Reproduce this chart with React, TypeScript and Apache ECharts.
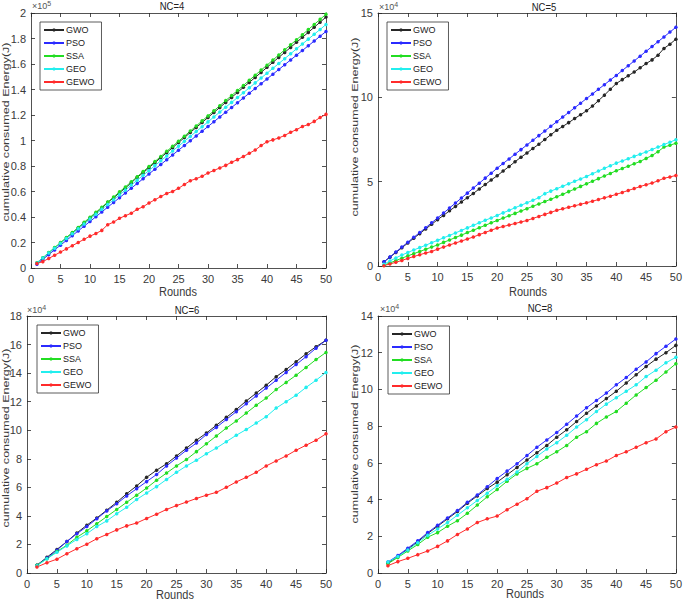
import React, { useEffect, useRef } from "react";
import * as echarts from "echarts";

const seriesNames = ["GWO", "PSO", "SSA", "GEO", "GEWO"];
const seriesColors = ["#262626", "#2b2bff", "#22dd22", "#22eeee", "#ff2b2b"];

// x values (rounds)
const roundsA = [1,2,3,4,5,6,7,8,9,10,11,12,13,14,15,16,17,18,19,20,21,22,23,24,25,26,27,28,29,30,31,32,33,34,35,36,37,38,39,40,41,42,43,44,45,46,47,48,49,50];
const roundsB = [1.667,3.333,5,6.667,8.333,10,11.667,13.333,15,16.667,18.333,20,21.667,23.333,25,26.667,28.333,30,31.667,33.333,35,36.667,38.333,40,41.667,43.333,45,46.667,48.333,50];

// NC=4, values in x10^5 J
const nc4GWO = [0.040,0.078,0.117,0.157,0.196,0.236,0.274,0.314,0.352,0.392,0.431,0.470,0.515,0.550,0.590,0.628,0.668,0.712,0.747,0.787,0.826,0.866,0.905,0.944,0.984,1.023,1.063,1.102,1.141,1.181,1.220,1.259,1.299,1.338,1.377,1.417,1.456,1.495,1.534,1.574,1.613,1.652,1.691,1.730,1.770,1.809,1.848,1.888,1.928,1.968];
const nc4PSO = [0.030,0.067,0.105,0.142,0.179,0.216,0.254,0.291,0.328,0.365,0.402,0.440,0.477,0.514,0.551,0.589,0.626,0.663,0.700,0.738,0.775,0.812,0.849,0.887,0.924,0.961,0.998,1.036,1.073,1.110,1.147,1.185,1.222,1.259,1.296,1.334,1.371,1.408,1.445,1.483,1.520,1.557,1.594,1.632,1.669,1.706,1.743,1.780,1.818,1.855];
const nc4SSA = [0.042,0.080,0.121,0.160,0.199,0.239,0.278,0.318,0.358,0.398,0.437,0.477,0.517,0.557,0.597,0.636,0.676,0.716,0.756,0.796,0.835,0.875,0.915,0.955,0.994,1.034,1.074,1.114,1.154,1.193,1.233,1.273,1.313,1.353,1.392,1.432,1.472,1.512,1.552,1.591,1.631,1.671,1.711,1.751,1.790,1.830,1.870,1.910,1.950,1.990];
const nc4GEO = [0.040,0.079,0.117,0.155,0.193,0.231,0.269,0.307,0.345,0.384,0.422,0.460,0.498,0.536,0.574,0.612,0.651,0.689,0.727,0.765,0.803,0.841,0.879,0.918,0.956,0.994,1.032,1.070,1.108,1.146,1.185,1.223,1.261,1.299,1.337,1.375,1.413,1.452,1.490,1.528,1.566,1.604,1.642,1.680,1.719,1.757,1.795,1.833,1.871,1.910];
const nc4GEWO = [0.035,0.050,0.075,0.100,0.125,0.150,0.175,0.200,0.225,0.250,0.270,0.295,0.340,0.360,0.390,0.410,0.430,0.460,0.480,0.510,0.535,0.560,0.585,0.600,0.625,0.655,0.685,0.700,0.720,0.745,0.765,0.785,0.805,0.830,0.850,0.875,0.900,0.925,0.960,0.990,1.005,1.020,1.040,1.065,1.085,1.110,1.125,1.150,1.180,1.205];

// NC=5, values in x10^4 J
const nc5GWO = [0.25,0.52,0.80,1.08,1.36,1.65,1.92,2.20,2.47,2.75,3.00,3.27,3.53,3.80,4.05,4.30,4.57,4.83,5.10,5.35,5.63,5.90,6.18,6.45,6.70,6.97,7.22,7.50,7.78,8.05,8.27,8.50,8.74,8.97,9.20,9.48,9.80,10.13,10.48,10.82,11.05,11.28,11.50,11.75,12.00,12.22,12.50,12.90,13.15,13.45];
const nc5PSO = [0.25,0.54,0.83,1.12,1.41,1.70,1.98,2.27,2.56,2.85,3.14,3.44,3.73,4.03,4.32,4.62,4.91,5.21,5.50,5.80,6.08,6.35,6.63,6.90,7.18,7.45,7.73,8.00,8.28,8.55,8.83,9.10,9.38,9.65,9.93,10.20,10.48,10.75,11.03,11.30,11.59,11.87,12.16,12.44,12.73,13.01,13.30,13.58,13.87,14.15];
const nc5SSA = [0.05,0.18,0.32,0.46,0.60,0.73,0.86,0.99,1.12,1.25,1.40,1.54,1.69,1.83,1.98,2.12,2.27,2.41,2.56,2.70,2.84,2.98,3.12,3.26,3.40,3.54,3.68,3.82,3.96,4.10,4.25,4.41,4.56,4.72,4.87,5.03,5.18,5.34,5.49,5.65,5.78,5.92,6.06,6.20,6.38,6.55,6.78,7.05,7.16,7.28];
const nc5GEO = [0.10,0.30,0.48,0.65,0.80,0.95,1.09,1.23,1.38,1.52,1.67,1.81,1.96,2.11,2.26,2.41,2.56,2.71,2.85,3.00,3.15,3.30,3.45,3.60,3.75,3.90,4.05,4.29,4.44,4.58,4.73,4.87,5.02,5.16,5.31,5.47,5.63,5.79,5.94,6.10,6.23,6.36,6.50,6.63,6.76,6.91,7.05,7.20,7.34,7.49];
const nc5GEWO = [0.02,0.12,0.22,0.33,0.45,0.56,0.67,0.77,0.86,1.00,1.12,1.25,1.36,1.48,1.60,1.72,1.86,1.99,2.12,2.25,2.34,2.43,2.52,2.61,2.70,2.82,2.94,3.06,3.18,3.30,3.39,3.48,3.57,3.66,3.75,3.84,3.94,4.04,4.14,4.25,4.36,4.48,4.59,4.71,4.82,4.92,5.05,5.20,5.28,5.37];

// NC=6, values in x10^4 J
const nc6GWO = [0.55,1.10,1.65,2.20,2.80,3.35,3.85,4.40,4.95,5.55,6.10,6.70,7.20,7.65,8.20,8.75,9.30,9.80,10.35,10.90,11.45,12.05,12.60,13.15,13.75,14.25,14.80,15.35,15.85,16.30];
const nc6PSO = [0.55,1.05,1.60,2.20,2.75,3.25,3.80,4.35,4.85,5.40,5.90,6.40,6.90,7.50,8.05,8.60,9.10,9.70,10.20,10.75,11.30,11.85,12.40,12.95,13.50,14.05,14.60,15.15,15.75,16.30];
const nc6SSA = [0.55,1.00,1.50,1.95,2.50,2.95,3.45,3.95,4.45,4.95,5.45,5.95,6.50,7.00,7.50,7.95,8.50,9.05,9.60,10.15,10.65,11.20,11.75,12.25,12.85,13.35,13.85,14.40,14.95,15.45];
const nc6GEO = [0.50,1.00,1.45,1.90,2.35,2.75,3.25,3.65,4.15,4.60,5.15,5.60,6.05,6.55,7.05,7.50,7.90,8.35,8.75,9.20,9.65,10.05,10.50,10.95,11.55,12.00,12.45,13.00,13.50,14.05];
const nc6GEWO = [0.42,0.72,0.97,1.35,1.70,2.02,2.40,2.70,3.02,3.30,3.50,3.82,4.12,4.45,4.72,4.97,5.22,5.45,5.65,6.00,6.38,6.70,7.05,7.50,7.85,8.20,8.60,8.95,9.30,9.75];

// NC=8, values in x10^4 J
const nc8GWO = [0.55,0.90,1.30,1.70,2.15,2.55,2.95,3.35,3.80,4.20,4.60,4.95,5.35,5.75,6.15,6.55,6.95,7.40,7.80,8.25,8.70,9.10,9.50,9.90,10.35,10.80,11.25,11.65,12.00,12.40];
const nc8PSO = [0.60,0.95,1.35,1.75,2.20,2.60,3.00,3.40,3.85,4.25,4.70,5.15,5.55,5.95,6.40,6.85,7.25,7.65,8.10,8.55,9.00,9.40,9.80,10.25,10.65,11.10,11.50,11.95,12.35,12.75];
const nc8SSA = [0.50,0.85,1.20,1.55,1.95,2.20,2.55,2.85,3.25,3.70,4.15,4.55,5.00,5.40,5.70,5.95,6.30,6.60,6.95,7.40,7.70,8.15,8.50,8.80,9.25,9.70,10.10,10.50,10.95,11.40];
const nc8GEO = [0.60,0.90,1.25,1.65,2.05,2.40,2.75,3.15,3.55,3.95,4.35,4.75,5.10,5.50,5.95,6.35,6.75,7.10,7.50,7.95,8.35,8.80,9.20,9.55,9.90,10.25,10.70,11.05,11.45,11.75];
const nc8GEWO = [0.40,0.62,0.80,1.00,1.20,1.45,1.75,2.10,2.40,2.75,2.95,3.10,3.45,3.75,4.05,4.45,4.65,4.90,5.20,5.40,5.65,5.90,6.10,6.40,6.60,6.85,7.10,7.30,7.70,7.95];

const panelTitles = ["NC=4", "NC=5", "NC=6", "NC=8"];
const panelExponents = ["5", "4", "4", "4"];
const yMax = [2, 15, 18, 14];
const yInterval = [0.2, 5, 2, 2];

const FONT = "'Liberation Sans', Arial, Helvetica, sans-serif";
const AX = "#262626";
const LBL = "#3a3a3a";

export default function App() {
  const ref = useRef<HTMLDivElement>(null);
  useEffect(() => {
    document.body.style.margin = "0";
    if (!ref.current) return;
    const chart = echarts.init(ref.current, null, { renderer: "svg" });

    const grids = [
      { left: 31, top: 13, width: 295, height: 255 },
      { left: 378, top: 13, width: 302, height: 253 },
      { left: 27, top: 316, width: 299, height: 257 },
      { left: 378, top: 316, width: 302, height: 257 },
    ];
    const panelData = [
      { x: roundsA, ys: [nc4GWO, nc4PSO, nc4SSA, nc4GEO, nc4GEWO] },
      { x: roundsA, ys: [nc5GWO, nc5PSO, nc5SSA, nc5GEO, nc5GEWO] },
      { x: roundsB, ys: [nc6GWO, nc6PSO, nc6SSA, nc6GEO, nc6GEWO] },
      { x: roundsB, ys: [nc8GWO, nc8PSO, nc8SSA, nc8GEO, nc8GEWO] },
    ];

    const lineStyle = { color: AX, width: 0.8 };
    const xAxes: any[] = [];
    const yAxes: any[] = [];
    grids.forEach((_, g) => {
      ["bottom", "top"].forEach((pos) => {
        xAxes.push({
          type: "value", gridIndex: g, position: pos, min: 0, max: 50, interval: 5,
          axisLine: { show: true, onZero: false, lineStyle },
          axisTick: { show: true, inside: true, length: 4, lineStyle },
          axisLabel: { show: pos === "bottom", color: LBL, fontSize: 11, margin: 5, fontFamily: FONT },
          splitLine: { show: false },
        });
      });
      ["left", "right"].forEach((pos) => {
        yAxes.push({
          type: "value", gridIndex: g, position: pos, min: 0, max: yMax[g], interval: yInterval[g],
          axisLine: { show: true, onZero: false, lineStyle },
          axisTick: { show: true, inside: true, length: 4, lineStyle },
          axisLabel: { show: pos === "left", color: LBL, fontSize: 11, margin: 5, fontFamily: FONT },
          splitLine: { show: false },
        });
      });
    });

    const series: any[] = [];
    panelData.forEach((p, g) => {
      p.ys.forEach((vals, s) => {
        series.push({
          type: "line", name: seriesNames[s], xAxisIndex: 2 * g, yAxisIndex: 2 * g,
          data: p.x.map((xv, i) => [xv, vals[i]]),
          symbol: "circle", symbolSize: 3.5, showSymbol: true,
          lineStyle: { color: seriesColors[s], width: 1 },
          itemStyle: { color: seriesColors[s] },
          emphasis: { disabled: true },
        });
      });
    });

    const legendPos = [
      { left: 40, top: 22 },
      { left: 387, top: 22 },
      { left: 37, top: 325 },
      { left: 388, top: 326 },
    ];
    const legends = legendPos.map((lp) => ({
      ...lp,
      orient: "vertical",
      data: seriesNames,
      selectedMode: false,
      itemWidth: 20, itemHeight: 4, itemGap: 3,
      padding: [3, 7, 3, 3],
      borderColor: "#333", borderWidth: 0.8, borderRadius: 0,
      backgroundColor: "#fff",
      textStyle: { fontSize: 9, lineHeight: 10, color: "#222", fontFamily: FONT, padding: [0, 0, 0, -3] },
    }));

    const yNamePos = [
      { x: 6, y: 132 },
      { x: 355, y: 127 },
      { x: 6, y: 438 },
      { x: 355, y: 434 },
    ];
    const titlePos = [
      { x: 172, y: 6 },
      { x: 544, y: 7 },
      { x: 187, y: 310 },
      { x: 540, y: 308 },
    ];
    const roundsPos = [
      { x: 178, y: 292 },
      { x: 528, y: 292 },
      { x: 175, y: 595 },
      { x: 525, y: 594 },
    ];
    const expPos = [
      { x: 32, y: 6 },
      { x: 379, y: 7 },
      { x: 27, y: 310 },
      { x: 380, y: 309 },
    ];
    const graphics: any[] = [];
    for (let g = 0; g < 4; g++) {
      graphics.push({
        type: "text", x: yNamePos[g].x, y: yNamePos[g].y, rotation: Math.PI / 2, scaleX: 1.28,
        style: { text: "cumulative consumed Energy(J)", align: "center", verticalAlign: "middle", fontSize: 9.8, fill: LBL, fontFamily: FONT },
      });
      graphics.push({
        type: "text", x: titlePos[g].x, y: titlePos[g].y, scaleY: 1.15,
        style: { text: panelTitles[g], align: "center", verticalAlign: "middle", fontSize: 9.5, fill: "#222", fontFamily: FONT },
      });
      graphics.push({
        type: "text", x: roundsPos[g].x, y: roundsPos[g].y, scaleY: 1.15,
        style: { text: "Rounds", align: "center", verticalAlign: "middle", fontSize: 11, fill: LBL, fontFamily: FONT },
      });
      graphics.push({
        type: "text", x: expPos[g].x, y: expPos[g].y,
        style: {
          text: "×10{sup|" + panelExponents[g] + "}", align: "left", verticalAlign: "middle",
          fontSize: 9, fill: "#555", fontFamily: FONT,
          rich: { sup: { fontSize: 7, fill: "#555", verticalAlign: "bottom", padding: [0, 0, 6, 0], fontFamily: FONT } },
        },
      });
    }

    chart.setOption({
      animation: false,
      backgroundColor: "#fff",
      textStyle: { fontFamily: FONT },
      grid: grids.map((gr) => ({ ...gr, show: false, containLabel: false })),
      xAxis: xAxes,
      yAxis: yAxes,
      legend: legends,
      series,
      graphic: graphics,
    });
    return () => chart.dispose();
  }, []);
  return <div ref={ref} style={{ width: 685, height: 602 }} />;
}
